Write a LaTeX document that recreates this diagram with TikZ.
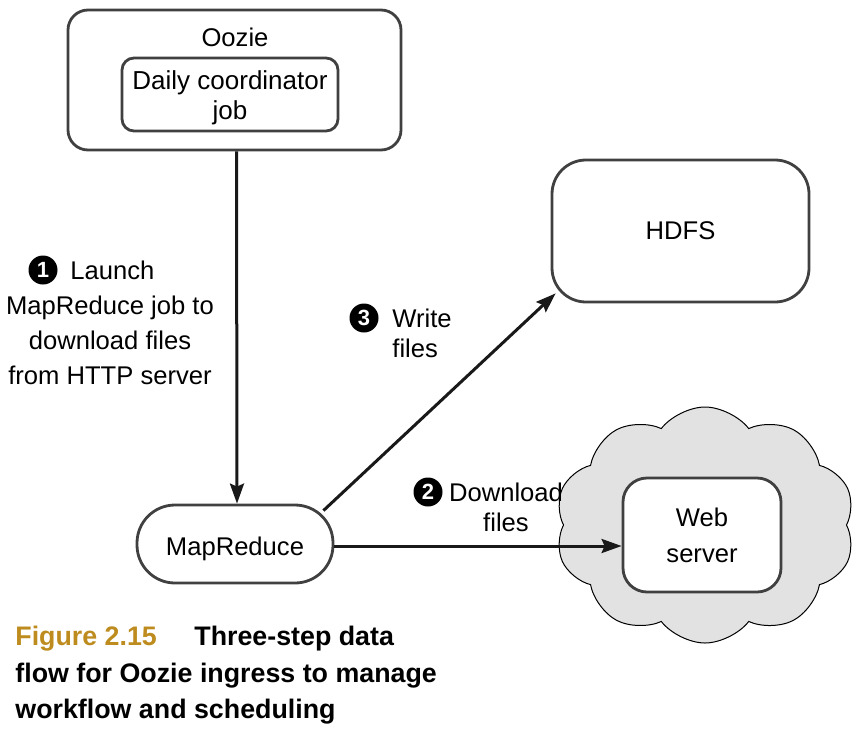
\documentclass[tikz,border=0pt]{standalone}
\usepackage{fontspec}
\setmainfont{Liberation Sans}
\usetikzlibrary{arrows.meta,shapes.symbols}
\definecolor{boxgray}{RGB}{64,64,64}
\definecolor{capgold}{RGB}{190,140,30}
\definecolor{cloudfill}{RGB}{226,226,226}
\tikzset{
  box/.style={draw=boxgray, line width=1.4pt, rectangle, fill=white, inner sep=0pt},
  txt/.style={font=\fontsize{12.8}{17.5}\selectfont, inner sep=0pt, text=black},
  numc/.style={circle, fill=black, text=white, inner sep=0pt, minimum size=14.5pt,
    font=\fontsize{11}{11}\selectfont\bfseries},
  flow/.style={line width=1.5pt, draw=black!90, -{Stealth[length=10pt,width=7pt,inset=1.5pt]}},
  cloudy/.style={cloud, cloud puffs=10, cloud puff arc=105, aspect=1.25, draw=black,
    line width=0.5pt, fill=cloudfill, minimum width=150pt, minimum height=118pt}
}
\begin{document}
\begin{tikzpicture}[x=0.5pt,y=-0.5pt]
\useasboundingbox (0,0) rectangle (860,744);
% cloud
\node[cloudy] (cloud) at (705,525) {};
% boxes
\node[box, rounded corners=10pt, minimum width=166.5pt, minimum height=70pt] (oozie) at (234.5,80) {};
\node[txt] (oozietxt) at (235,37) {Oozie};
\node[box, rounded corners=6pt, minimum width=108pt, minimum height=36.5pt, align=center,
  font=\fontsize{13}{15}\selectfont] (coord) at (230,94.5) {\rule{0pt}{12.5pt}Daily coordinator\\job};
\node[box, rounded corners=19pt, minimum width=98pt, minimum height=39pt,
  text height=11pt, text depth=0pt,
  font=\fontsize{12.8}{15}\selectfont] (mr) at (235,544) {MapReduce};
\node[box, rounded corners=17pt, minimum width=128.5pt, minimum height=71pt,
  font=\fontsize{12.8}{15}\selectfont] (hdfs) at (680.5,231) {HDFS};
\node[box, rounded corners=12pt, minimum width=79pt, minimum height=57pt, align=center,
  font=\fontsize{12.8}{18}\selectfont] (web) at (702,535) {Web\\server};
% arrows
\draw[flow] ([xshift=1pt]oozie.south) -- ([xshift=1pt]mr.north);
\draw[flow] ([shift={(-5.5pt,-3.5pt)}]mr.north east) -- ([shift={(2.5pt,5pt)}]hdfs.south west);
\draw[flow] ([yshift=-1pt]mr.east) -- ([yshift=-1pt]mr.east -| web.west);
% labels
\node[numc] (n1) at (43,270) {1};
\node[txt, anchor=west] (l1a) at (70,270) {Launch};
\node[txt, align=center] (l1b) at (110,340) {MapReduce job to\\download files\\from HTTP server};
\node[numc] (n3) at (364,318) {3};
\node[txt, anchor=west, align=left, font=\fontsize{12.8}{15}\selectfont] (l3) at (392,333) {Write\\files};
\node[numc] (n2) at (428,492) {2};
\node[txt, align=center, font=\fontsize{12.8}{15}\selectfont] (l2) at (506,507) {Download\\files};
% caption
\node[anchor=north west, align=left, inner sep=0pt,
  font=\fontsize{13.4}{18.2}\selectfont\bfseries] (cap) at (15,626)
  {\textcolor{capgold}{Figure 2.15}\hspace{1.4em}Three-step data\\flow for Oozie ingress to manage\\workflow and scheduling};
\end{tikzpicture}
\end{document}
